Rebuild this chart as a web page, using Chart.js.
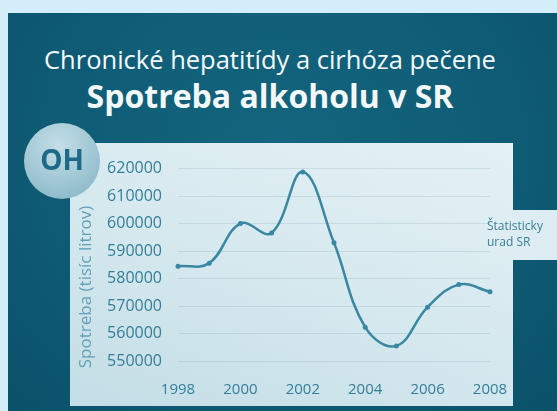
<!DOCTYPE html>
<html>
<head>
<meta charset="utf-8">
<script src="https://cdn.jsdelivr.net/npm/chart.js"></script>
<style>
  html, body { margin: 0; padding: 0; }
  body { width: 557px; height: 411px; background: #d4eef9; position: relative; overflow: hidden; font-family: "Open Sans", sans-serif; }
  #slide { position: absolute; left: 8px; top: 13px; width: 549px; height: 398px;
    background: radial-gradient(ellipse at 50% 35%, #14657f 0%, #105d77 50%, #0b516a 100%); }
  .title { position: absolute; left: 0; width: 540px; text-align: center; color: #f2f8fa; white-space: nowrap; }
  #t1 { top: 42px; font-size: 25.5px; }
  #t2 { top: 74px; font-size: 32px; font-weight: bold; }
  #panel { position: absolute; left: 70px; top: 143px; width: 443px; height: 263px;
    background: linear-gradient(200deg, #e4f1f5 0%, #d6e9ef 50%, #c4dde6 100%); }
  #legendTab { position: absolute; left: 512px; top: 210px; width: 45px; height: 50px; background: #dcecf2; }
  #legendText { position: absolute; left: 487px; top: 218px; font-size: 12px; line-height: 16px; color: #3b7f97; }
  #oh { position: absolute; left: 24px; top: 123px; width: 76px; height: 76px; border-radius: 50%;
    background: radial-gradient(circle at 45% 30%, #c4dee7 0%, #9cc4d2 60%, #7fb0c1 100%);
    color: #1c6a86; font-weight: bold; font-size: 28px; text-align: center; line-height: 72px; }
  #chart { position: absolute; left: 70px; top: 143px; }
</style>
</head>
<body>
<div id="slide"></div>
<div class="title" id="t1">Chronické hepatitídy a cirhóza pečene</div>
<div class="title" id="t2">Spotreba alkoholu v SR</div>
<div id="panel"></div>
<div id="legendTab"></div>
<canvas id="chart" width="445" height="263"></canvas>
<div id="legendText">Štatisticky<br>urad SR</div>
<div id="oh">OH</div>
<script>
var years = ["1998", "1999", "2000", "2001", "2002", "2003", "2004", "2005", "2006", "2007", "2008"];
var consumption = [584500, 585600, 600000, 596600, 618800, 593000, 562300, 555500, 569600, 577800, 575200];
var seriesName = "Štatisticky urad SR";
var yTitle = "Spotreba (tisíc litrov)";
var yMin = 550000, yMax = 620000, yStep = 10000;

var lineColor = "#3a87a2";
var tickColor = "#347e98";

// axis title drawn by hand so it can sit lower than the axis centre, as in the slide
var yTitlePlugin = {
  id: "yTitle",
  afterDraw: function (chart) {
    var ctx = chart.ctx;
    ctx.save();
    ctx.translate(16, 144);
    ctx.rotate(-Math.PI / 2);
    ctx.textAlign = "center";
    ctx.textBaseline = "middle";
    ctx.fillStyle = "#62a0b7";
    ctx.font = "17px 'Open Sans'";
    ctx.fillText(yTitle, 0, 0);
    ctx.restore();
  }
};

new Chart(document.getElementById("chart"), {
  type: "line",
  data: {
    labels: years,
    datasets: [{
      label: seriesName,
      data: consumption,
      borderColor: lineColor,
      backgroundColor: lineColor,
      borderWidth: 2.5,
      pointRadius: 2.5,
      pointBorderWidth: 0,
      tension: 0.4,
      fill: false
    }]
  },
  plugins: [yTitlePlugin],
  options: {
    responsive: false,
    animation: false,
    devicePixelRatio: 1,
    layout: { padding: { left: 0, top: 17, right: 25, bottom: 0 } },
    plugins: { legend: { display: false }, tooltip: { enabled: false } },
    scales: {
      x: {
        grid: { display: false, drawTicks: false },
        border: { display: false },
        ticks: {
          autoSkip: false, maxRotation: 0, padding: 20, color: tickColor,
          font: { family: "Open Sans", size: 15 },
          callback: function (v, i) { return i % 2 === 0 ? years[i] : ""; }
        },
        afterFit: function (s) { s.height = 45; s.paddingLeft = 0; s.paddingRight = 0; }
      },
      y: {
        min: yMin, max: yMax,
        grid: { color: "rgba(110,150,170,0.2)", lineWidth: 1, drawTicks: false },
        border: { display: false },
        ticks: {
          stepSize: yStep, padding: 16, color: tickColor,
          font: { family: "Open Sans", size: 16 },
          callback: function (v) { return String(v); }
        },
        afterFit: function (s) { s.width = 108; }
      }
    }
  }
});
</script>
</body>
</html>
